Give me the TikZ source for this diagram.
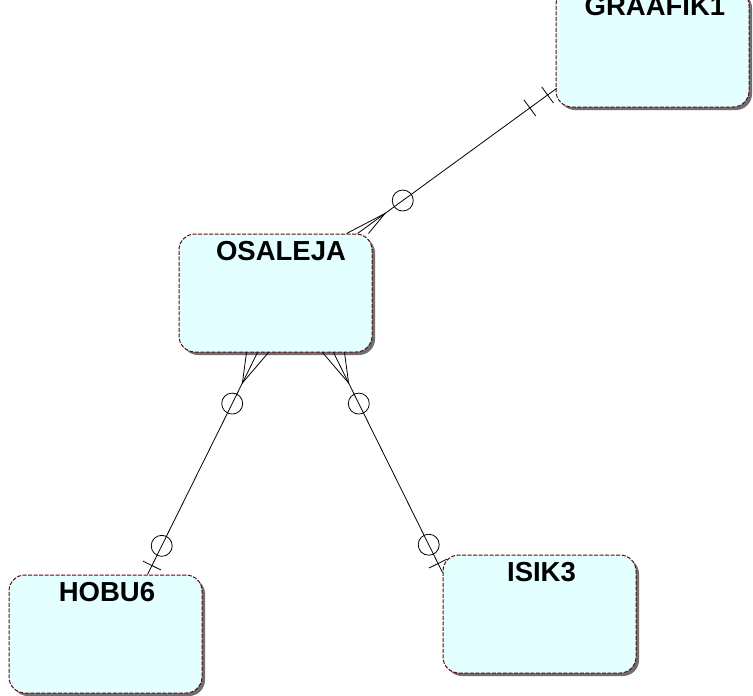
\documentclass[tikz,border=0pt]{standalone}
\usepackage{fontspec}
\setmainfont{Liberation Sans}
\usetikzlibrary{calc,shadows}
\definecolor{boxfill}{HTML}{E4FFFF}
\definecolor{boxline}{HTML}{5A0A0A}
\definecolor{shadowgray}{HTML}{6F6F6F}
\tikzset{
  entity/.style={draw=boxline, fill=boxfill, line width=1pt,
    dash pattern=on 4pt off 1.5pt, rounded corners=16pt,
    minimum width=193pt, minimum height=118pt, inner sep=0pt,
    general shadow={shadow xshift=3pt, shadow yshift=-3pt, fill=shadowgray, draw=none}},
  lbl/.style={font=\bfseries\fontsize{27.5}{30}\selectfont, anchor=base, inner sep=0pt},
  rel/.style={line width=0.8pt, black},
}
\begin{document}
\begin{tikzpicture}[x=1pt,y=-1pt]
\useasboundingbox (0,0) rectangle (753,696);
% entities
\node[entity] (graafik) at (652.5,48) {};
\node[entity] (osaleja) at (275.5,293) {};
\node[entity] (hobu) at (105.5,634) {};
\node[entity] (isik) at (539.5,614) {};
\node[lbl] (graafikt) at ($(graafik.north)+(2.5,27)$) {GRAAFIK1};
\node[lbl] (osalejat) at ($(osaleja.north)+(5.5,27)$) {OSALEJA};
\node[lbl] (hobut) at ($(hobu.north)+(1.5,27)$) {HOBU6};
\node[lbl] (isikt) at ($(isik.north)+(2,27)$) {ISIK3};
% connector end points
\coordinate (a1) at ($(osaleja.north east)+(-15,0)$);
\coordinate (b1) at ($(graafik.south west)+(1,-19)$);
\coordinate (a2) at ($(osaleja.south west)+(79,0)$);
\coordinate (b2) at ($(hobu.north west)+(139,0)$);
\coordinate (a3) at ($(osaleja.south west)+(155,0)$);
\coordinate (b3) at ($(isik.north west)+(0,18)$);
% OSALEJA -- GRAAFIK1
\draw[rel] (a1) -- (b1);
\draw[rel] ($(a1)+(-11,0)$) -- ($(a1)!34pt!(b1)$) -- ($(a1)+(11,0)$);
\draw[rel] ($(a1)!56pt!(b1)$) circle (10.5pt);
\draw[rel] ($($(b1)!11pt!(a1)$)!10pt!90:(b1)$) -- ($($(b1)!11pt!(a1)$)!10pt!-90:(b1)$);
\draw[rel] ($($(b1)!33pt!(a1)$)!10pt!90:(b1)$) -- ($($(b1)!33pt!(a1)$)!10pt!-90:(b1)$);
% OSALEJA -- HOBU6
\draw[rel] (a2) -- (b2);
\draw[rel] ($(a2)+(-11,0)$) -- ($(a2)!34pt!(b2)$) -- ($(a2)+(11,0)$);
\draw[rel] ($(a2)!57pt!(b2)$) circle (10.5pt);
\draw[rel] ($($(b2)!10pt!(a2)$)!10pt!90:(b2)$) -- ($($(b2)!10pt!(a2)$)!10pt!-90:(b2)$);
\draw[rel] ($(b2)!32pt!(a2)$) circle (10.5pt);
% OSALEJA -- ISIK3
\draw[rel] (a3) -- (b3);
\draw[rel] ($(a3)+(-11,0)$) -- ($(a3)!34pt!(b3)$) -- ($(a3)+(11,0)$);
\draw[rel] ($(a3)!57pt!(b3)$) circle (10.5pt);
\draw[rel] ($($(b3)!10pt!(a3)$)!10pt!90:(b3)$) -- ($($(b3)!10pt!(a3)$)!10pt!-90:(b3)$);
\draw[rel] ($(b3)!31pt!(a3)$) circle (10.5pt);
\end{tikzpicture}
\end{document}
